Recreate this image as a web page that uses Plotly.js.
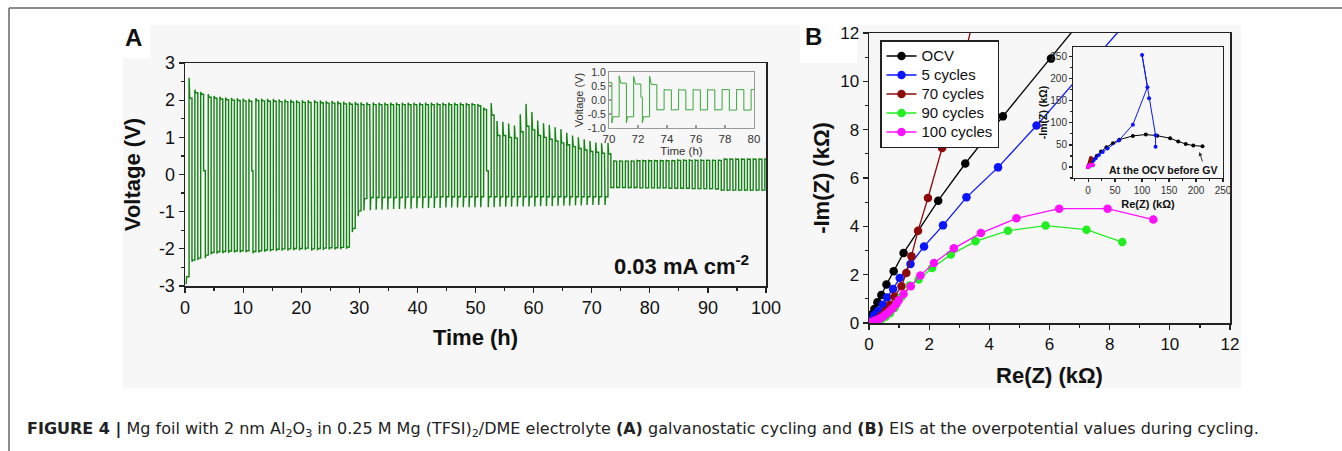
<!DOCTYPE html>
<html><head><meta charset="utf-8">
<script src="https://cdn.plot.ly/plotly-3.0.1.min.js"></script>
<style>html,body{margin:0;padding:0;background:#fff;}#chart{width:1342px;height:451px;}</style>
</head><body><div id="chart"></div>
<script>
// ---------- Panel A: galvanostatic cycling (per-cycle values) ----------
const segStart  = [0.2, 3.5, 11.7, 21.8, 31.9, 52.2, 72.3];   // h, start of each cycling block
const segCycles = [3, 8, 10, 10, 20, 20, 28];                  // cycles (1 h each) per block
const restV = 0.1;                                             // V during short rests
const lowPeak = [
  -2.95,-2.35,-2.3,
  -2.25,-2.15,-2.13,-2.12,-2.11,-2.1,-2.1,-2.09,
  -2.12,-2.1,-2.08,-2.07,-2.06,-2.05,-2.05,-2.04,-2.04,-2.03,
  -2.05,-2.04,-2.03,-2.02,-2.02,-2.01,-2.0,-1.55,-1.12,-0.97,
  -0.96,-0.95,-0.95,-0.94,-0.93,-0.93,-0.92,-0.92,-0.91,-0.91,-0.9,-0.9,-0.9,-0.89,-0.89,-0.89,-0.88,-0.88,-0.88,-0.88,
  -0.88,-0.88,-0.87,-0.87,-0.87,-0.86,-0.86,-0.86,-0.86,-0.85,-0.85,-0.85,-0.84,-0.84,-0.84,-0.83,-0.83,-0.82,-0.82,-0.82,
  -0.82,-0.36,-0.36,-0.36,-0.37,-0.37,-0.37,-0.37,-0.37,-0.38,-0.38,-0.38,-0.38,-0.38,-0.39,-0.39,-0.39,-0.39,-0.4,-0.4,
  -0.44,-0.44,-0.44,-0.44,-0.44,-0.44,-0.44,-0.44
];
const lowPlat = [
  -2.75,-2.3,-2.25,
  -2.17,-2.1,-2.08,-2.07,-2.06,-2.06,-2.05,-2.05,
  -2.07,-2.05,-2.03,-2.02,-2.01,-2.0,-2.0,-1.99,-1.99,-1.98,
  -2.0,-1.99,-1.98,-1.97,-1.97,-1.96,-1.95,-1.45,-0.98,-0.65,
  -0.62,-0.62,-0.62,-0.62,-0.62,-0.62,-0.61,-0.61,-0.61,-0.61,-0.61,-0.61,-0.6,-0.6,-0.6,-0.6,-0.6,-0.6,-0.6,-0.6,
  -0.6,-0.6,-0.6,-0.6,-0.6,-0.6,-0.6,-0.6,-0.6,-0.6,-0.6,-0.6,-0.6,-0.6,-0.6,-0.6,-0.6,-0.6,-0.6,-0.6,
  -0.6,-0.35,-0.35,-0.35,-0.35,-0.35,-0.36,-0.36,-0.36,-0.36,-0.36,-0.37,-0.37,-0.37,-0.37,-0.38,-0.38,-0.38,-0.38,-0.39,
  -0.42,-0.42,-0.42,-0.42,-0.42,-0.42,-0.42,-0.42
];
const upPeak = [
  2.6,2.28,2.22,
  2.16,2.11,2.09,2.07,2.06,2.05,2.04,2.03,
  2.05,2.04,2.03,2.03,2.02,2.02,2.01,2.0,2.0,2.0,
  2.0,1.99,1.98,1.98,1.97,1.96,1.95,1.95,1.94,1.94,
  1.94,1.93,1.93,1.93,1.93,1.93,1.93,1.93,1.93,1.93,1.93,1.93,1.93,1.93,1.93,1.93,1.92,1.92,1.9,1.8,
  1.92,1.44,1.42,1.37,1.32,1.62,1.9,1.68,1.45,1.38,1.33,1.27,1.22,1.12,1.05,1.0,0.95,0.9,0.86,0.84,
  0.85,0.38,0.38,0.38,0.38,0.38,0.38,0.38,0.39,0.39,0.39,0.39,0.39,0.39,0.39,0.39,0.39,0.4,0.4,0.4,
  0.42,0.42,0.42,0.42,0.42,0.42,0.42,0.42
];
const upPlat = [
  2.05,2.2,2.16,
  2.08,2.05,2.03,2.01,2.0,1.99,1.98,1.97,
  1.99,1.98,1.97,1.97,1.96,1.96,1.95,1.94,1.94,1.94,
  1.94,1.93,1.92,1.92,1.91,1.9,1.89,1.89,1.88,1.88,
  1.88,1.88,1.88,1.88,1.88,1.88,1.88,1.88,1.88,1.88,1.88,1.88,1.88,1.88,1.88,1.88,1.88,1.88,1.85,1.75,
  1.6,1.05,1.05,1.0,0.98,1.15,1.3,1.2,1.05,1.0,0.95,0.9,0.85,0.8,0.75,0.7,0.66,0.62,0.6,0.57,
  0.55,0.36,0.36,0.36,0.36,0.37,0.37,0.37,0.37,0.37,0.37,0.37,0.38,0.38,0.38,0.38,0.38,0.38,0.38,0.38,
  0.41,0.41,0.41,0.41,0.41,0.41,0.41,0.41
];
const voltTickVals = [-3,-2,-1,0,1,2,3];
const voltTickText = ['-3','-2','-1','0','1','2','3'];
const insetVoltVals = [-1,-0.5,0,0.5,1];
const insetVoltText = ['-1.0','-0.5','0.0','0.5','1.0'];

// ---------- Panel B: Nyquist plots (kΩ) ----------
const seriesNames = ['OCV','5 cycles','70 cycles','90 cycles','100 cycles'];
const seriesColors = ['#000000','#0a14ff','#8e0a0a','#22ee22','#ff10ff'];
const ocvRe  = [0,0.03,0.07,0.12,0.18,0.28,0.41,0.58,0.82,1.15,2.3,3.2,4.45,6.05,10,16,24,34,46,58,83,107,128,152,167,181,195,212];
const ocvIm  = [0,0.08,0.22,0.38,0.58,0.86,1.16,1.59,2.14,2.9,5.06,6.6,8.55,10.94,17,25,35,44.7,54,62,70.5,73.5,71,65,58,52,48.5,47];
const c5Re   = [0,0.05,0.1,0.17,0.3,0.46,0.6,0.8,1.02,1.38,1.83,2.46,3.24,4.29,5.57,10,14,20,27,36,57,83,110,100,113,125,125];
const c5Im   = [0,0.07,0.17,0.33,0.5,0.76,1.06,1.41,1.86,2.44,3.17,4.04,5.2,6.44,8.17,14.5,20,27,34,42,60,96,181,254,156,72,46];
const c70Re  = [0,0.12,0.25,0.4,0.55,0.7,0.85,1.08,1.24,1.41,1.63,1.96,2.43,3.4,4.3,5.2];
const c70Im  = [0,0.06,0.15,0.3,0.5,0.75,1.1,1.52,2.07,2.76,3.82,5.17,7.24,12.2,16.5,20.5];
const c90Re  = [0,0.08,0.18,0.3,0.42,0.55,0.7,0.85,1.08,1.35,1.65,2.1,2.72,3.54,4.62,5.87,7.23,8.42];
const c90Im  = [0,0.02,0.05,0.1,0.17,0.26,0.4,0.62,1.1,1.55,1.8,2.28,2.83,3.38,3.82,4.03,3.86,3.35];
const c100Re = [0,0.05,0.1,0.15,0.22,0.3,0.38,0.47,0.56,0.66,0.78,0.91,0.99,1.15,1.39,1.71,2.16,2.82,3.72,4.9,6.32,7.93,9.45];
const c100Im = [0,0.02,0.04,0.07,0.1,0.14,0.2,0.27,0.36,0.47,0.6,0.79,0.94,1.2,1.52,1.97,2.48,3.09,3.72,4.33,4.73,4.73,4.28];
const seriesRe = [ocvRe,c5Re,c70Re,c90Re,c100Re];
const seriesIm = [ocvIm,c5Im,c70Im,c90Im,c100Im];

// ---------- build the voltage trace from per-cycle values ----------
const tV = [], vV = [];
let c = 0;
for (let s = 0; s < segStart.length; s++) {
  const t0 = segStart[s];
  if (s > 0) { tV.push(t0); vV.push(restV); }
  for (let k = 0; k < segCycles[s]; k++, c++) {
    const ts = t0 + k;
    tV.push(ts, ts + 0.08, ts + 0.5, ts + 0.5, ts + 0.62, ts + 1);
    vV.push(lowPeak[c], lowPlat[c], lowPlat[c], upPeak[c], upPlat[c], upPlat[c]);
  }
  if (s < segStart.length - 1) { tV.push(t0 + segCycles[s]); vV.push(restV); }
}

// ---------- layout helpers (pixel -> paper) ----------
const W = 1342, H = 451;
const px = x => x / W, py = y => 1 - y / H;
const F = 'Liberation Sans, Arial, sans-serif';
const ink = '#111';

const traces = [];
traces.push({x: tV, y: vV, type: 'scatter', mode: 'lines', xaxis: 'x', yaxis: 'y',
  line: {color: '#128212', width: 1.4}, showlegend: false, hoverinfo: 'skip'});
traces.push({x: tV, y: vV, type: 'scatter', mode: 'lines', xaxis: 'x2', yaxis: 'y2',
  line: {color: '#3aa63a', width: 1}, showlegend: false, hoverinfo: 'skip'});
for (let i = 0; i < seriesNames.length; i++) {
  traces.push({x: seriesRe[i], y: seriesIm[i],
    name: '<span style="font-size:15px">' + seriesNames[i] + '</span>',
    type: 'scatter', mode: 'lines+markers',
    xaxis: 'x3', yaxis: 'y3', line: {color: seriesColors[i], width: 1.3},
    marker: {color: seriesColors[i], size: 8.5}});
}
for (let i = 0; i < seriesNames.length; i++) {
  traces.push({x: seriesRe[i], y: seriesIm[i], name: seriesNames[i], type: 'scatter', mode: 'lines+markers',
    xaxis: 'x4', yaxis: 'y4', line: {color: seriesColors[i], width: 1},
    marker: {color: seriesColors[i], size: 4}, showlegend: false});
}

const axBase = {showgrid: false, zeroline: false, showline: true, mirror: true, ticks: 'outside',
  linecolor: '#222', linewidth: 1.5, tickcolor: '#222', tickwidth: 1.2, ticklen: 5,
  tickfont: {family: F, size: 18, color: ink}};
const titleFont = s => ({family: F, size: s, color: ink, weight: 'bold'});

const layout = {
  width: W, height: H, margin: {l: 0, r: 0, t: 0, b: 0},
  paper_bgcolor: '#ffffff', plot_bgcolor: '#f7f7f7',
  font: {family: F, color: ink},
  showlegend: true,
  legend: {x: px(880), y: py(40), xanchor: 'left', yanchor: 'top', bgcolor: '#ffffff',
    bordercolor: '#222', borderwidth: 1.5, font: {family: F, size: 12, color: ink}, tracegroupgap: 0},
  xaxis: Object.assign({}, axBase, {domain: [px(185), px(766)], anchor: 'y', range: [0, 100], dtick: 10,
    minor: {dtick: 5, ticks: 'outside', ticklen: 3, tickcolor: '#222'},
    title: {text: 'Time (h)', font: titleFont(22), standoff: 12}}),
  yaxis: Object.assign({}, axBase, {domain: [py(286), py(63)], anchor: 'x', range: [-3, 3],
    tickvals: voltTickVals, ticktext: voltTickText,
    minor: {dtick: 0.5, ticks: 'outside', ticklen: 3, tickcolor: '#222'},
    title: {text: 'Voltage (V)', font: titleFont(22), standoff: 12}}),
  xaxis2: Object.assign({}, axBase, {domain: [px(609), px(754)], anchor: 'y2', range: [70, 80], dtick: 2,
    ticks: 'inside', linecolor: '#999', linewidth: 1, tickcolor: '#999', ticklen: 3,
    tickfont: {family: F, size: 11.5, color: '#333'},
    title: {text: 'Time (h)', font: {family: F, size: 11.5, color: '#333'}, standoff: 1}}),
  yaxis2: Object.assign({}, axBase, {domain: [py(128), py(72)], anchor: 'x2', range: [-1, 1],
    tickvals: insetVoltVals, ticktext: insetVoltText,
    ticks: 'inside', linecolor: '#999', linewidth: 1, tickcolor: '#999', ticklen: 3,
    tickfont: {family: F, size: 10.5, color: '#333'},
    title: {text: 'Voltage (V)', font: {family: F, size: 11, color: '#333'}, standoff: 1}}),
  xaxis3: Object.assign({}, axBase, {domain: [px(869), px(1230)], anchor: 'y3', range: [0, 12], dtick: 2,
    tickfont: {family: F, size: 17, color: ink},
    minor: {dtick: 1, ticks: 'outside', ticklen: 3, tickcolor: '#222'},
    title: {text: 'Re(Z) (kΩ)', font: titleFont(22), standoff: 14}}),
  yaxis3: Object.assign({}, axBase, {domain: [py(323), py(33)], anchor: 'x3', range: [0, 12], dtick: 2,
    tickfont: {family: F, size: 17, color: ink},
    minor: {dtick: 1, ticks: 'outside', ticklen: 3, tickcolor: '#222'},
    title: {text: '-Im(Z) (kΩ)', font: titleFont(22), standoff: 4}}),
  xaxis4: Object.assign({}, axBase, {domain: [px(1073), px(1223)], anchor: 'y4', range: [-28, 250], dtick: 50,
    linewidth: 1, ticklen: 3, tickfont: {family: F, size: 10, color: '#333'},
    minor: {dtick: 25, ticks: 'outside', ticklen: 2, tickcolor: '#222'},
    title: {text: 'Re(Z) (kΩ)', font: titleFont(11), standoff: 5}}),
  yaxis4: Object.assign({}, axBase, {domain: [py(178), py(47)], anchor: 'x4', range: [-25, 272], dtick: 50,
    linewidth: 1, ticklen: 3, tickfont: {family: F, size: 10, color: '#333'},
    minor: {dtick: 25, ticks: 'outside', ticklen: 2, tickcolor: '#222'},
    title: {text: '-Im(Z) (kΩ)', font: titleFont(10.5), standoff: 0}}),
  shapes: [
    {type: 'rect', xref: 'paper', yref: 'paper', x0: px(123), x1: px(1241), y0: py(388), y1: py(25),
      fillcolor: '#f7f7f7', line: {width: 0}, layer: 'below'},
    {type: 'rect', xref: 'paper', yref: 'paper', x0: px(123), x1: px(150), y0: py(58), y1: py(25),
      fillcolor: '#ffffff', line: {width: 0}, layer: 'below'},
    {type: 'rect', xref: 'paper', yref: 'paper', x0: px(800), x1: px(857), y0: py(63), y1: py(25),
      fillcolor: '#ffffff', line: {width: 0}, layer: 'below'},
    {type: 'line', xref: 'paper', yref: 'paper', x0: px(9), x1: 1, y0: py(8), y1: py(8),
      line: {color: '#666', width: 1.5}},
    {type: 'line', xref: 'paper', yref: 'paper', x0: px(9), x1: px(9), y0: py(8), y1: 0,
      line: {color: '#666', width: 1.5}}
  ],
  annotations: [
    {text: '<b>A</b>', xref: 'paper', yref: 'paper', x: px(133), y: py(38), xanchor: 'center', yanchor: 'middle',
      showarrow: false, font: {family: F, size: 24, color: ink}},
    {text: '<b>B</b>', xref: 'paper', yref: 'paper', x: px(813), y: py(36), xanchor: 'center', yanchor: 'middle',
      showarrow: false, font: {family: F, size: 24, color: ink}},
    {text: '<b>0.03 mA cm<sup>-2</sup></b>', xref: 'paper', yref: 'paper', x: px(612), y: py(265),
      xanchor: 'left', yanchor: 'middle', showarrow: false, font: {family: F, size: 22, color: ink}},
    {text: '<b>At the OCV before GV</b>', xref: 'paper', yref: 'paper', x: px(1163), y: py(170),
      xanchor: 'center', yanchor: 'middle', showarrow: false, font: {family: F, size: 10.5, color: ink}},
    {text: '', xref: 'x4', yref: 'y4', x: 206, y: 34, ax: 213, ay: 9, axref: 'x4', ayref: 'y4',
      showarrow: true, arrowhead: 2, arrowsize: 0.8, arrowwidth: 1, arrowcolor: '#333'},
    {text: '<b>FIGURE 4 |</b> Mg foil with 2 nm Al<sub>2</sub>O<sub>3</sub> in 0.25 M Mg (TFSI)<sub>2</sub>/DME electrolyte <b>(A)</b> galvanostatic cycling and <b>(B)</b> EIS at the overpotential values during cycling.',
      xref: 'paper', yref: 'paper', x: px(25), y: py(429), xanchor: 'left', yanchor: 'middle',
      showarrow: false, font: {family: 'DejaVu Sans, sans-serif', size: 16, color: '#222'}}
  ]
};

Plotly.newPlot('chart', traces, layout, {displayModeBar: false, staticPlot: true});
</script></body></html>
